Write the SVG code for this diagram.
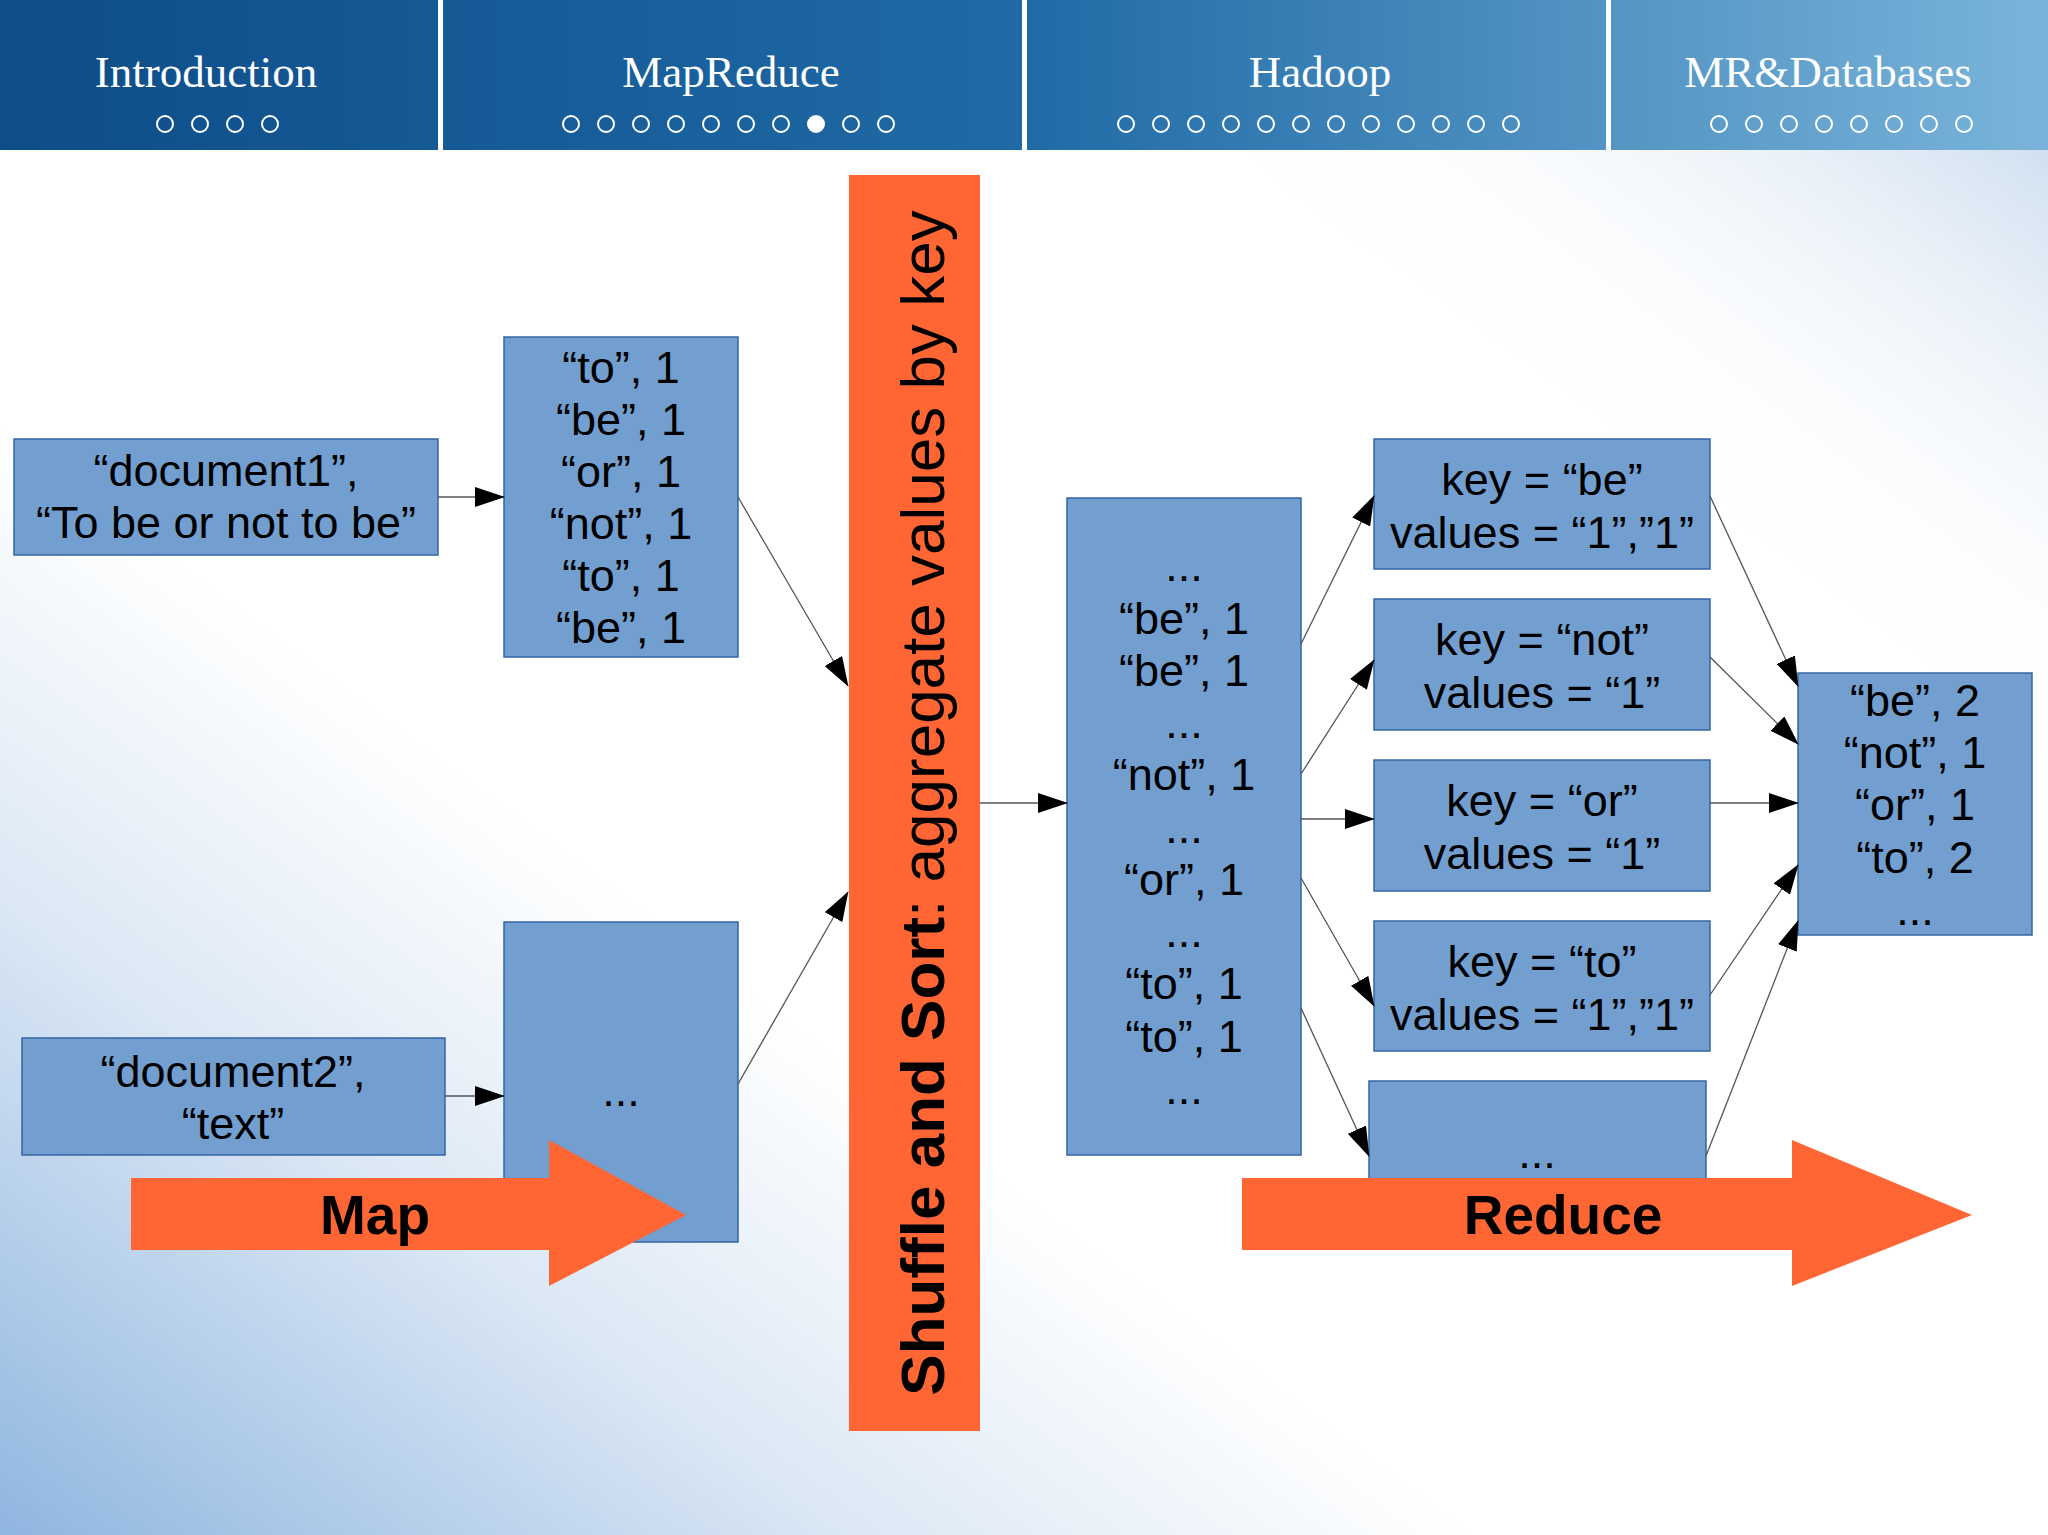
<svg xmlns="http://www.w3.org/2000/svg" width="2048" height="1535" viewBox="0 0 2048 1535">
<defs>
<linearGradient id="hdr" x1="0" y1="0" x2="1" y2="0">
<stop offset="0" stop-color="#0d4d88"/><stop offset="0.5" stop-color="#1f6aa6"/><stop offset="1" stop-color="#7ab4da"/>
</linearGradient>
<linearGradient id="bgl" x1="0" y1="1" x2="0.6" y2="0.4">
<stop offset="0" stop-color="#8fb6e0"/><stop offset="0.35" stop-color="#dce8f5"/><stop offset="0.6" stop-color="#ffffff"/>
</linearGradient>
<linearGradient id="bgr" x1="1" y1="0" x2="0.5" y2="0.5">
<stop offset="0" stop-color="#b7cfe9"/><stop offset="0.5" stop-color="#ffffff" stop-opacity="0"/>
</linearGradient>
<marker id="ah" markerUnits="userSpaceOnUse" markerWidth="30" markerHeight="20" refX="29" refY="10" orient="auto">
<path d="M0,0 L30,10 L0,20 Z" fill="#000"/>
</marker>
<style>
.box{fill:#729fcf;stroke:#3465a4;stroke-width:1.5}
.t{font-family:"Liberation Sans",Arial,sans-serif;font-size:45px;fill:#000;text-anchor:middle;dominant-baseline:central}
.c{stroke:#555;stroke-width:1.3;fill:none;marker-end:url(#ah)}
.h{font-family:"Liberation Serif","Times New Roman",serif;font-size:45px;fill:#fff;text-anchor:middle}
.d{fill:none;stroke:#fff;stroke-width:2}
.or{fill:#ff6633}
.b{font-family:"Liberation Sans",Arial,sans-serif;font-weight:bold;font-size:55px;fill:#000;text-anchor:middle;dominant-baseline:central}
</style>
</defs>
<rect width="2048" height="1535" fill="url(#bgl)"/>
<rect width="2048" height="1535" fill="url(#bgr)"/>
<g id="header">
<rect width="2048" height="150" fill="url(#hdr)"/>
<rect x="438" y="0" width="5" height="150" fill="#fff"/>
<rect x="1022" y="0" width="5" height="150" fill="#fff"/>
<rect x="1606" y="0" width="5" height="150" fill="#fff"/>
<text class="h" x="206" y="87">Introduction</text>
<text class="h" x="731" y="87">MapReduce</text>
<text class="h" x="1320" y="87">Hadoop</text>
<text class="h" x="1828" y="87">MR&amp;Databases</text>
<g class="d">
<circle cx="165" cy="124" r="8"/><circle cx="200" cy="124" r="8"/><circle cx="235" cy="124" r="8"/><circle cx="270" cy="124" r="8"/>
<circle cx="571" cy="124" r="8"/><circle cx="606" cy="124" r="8"/><circle cx="641" cy="124" r="8"/><circle cx="676" cy="124" r="8"/><circle cx="711" cy="124" r="8"/><circle cx="746" cy="124" r="8"/><circle cx="781" cy="124" r="8"/><circle cx="816" cy="124" r="8" fill="#fff"/><circle cx="851" cy="124" r="8"/><circle cx="886" cy="124" r="8"/>
<circle cx="1126" cy="124" r="8"/><circle cx="1161" cy="124" r="8"/><circle cx="1196" cy="124" r="8"/><circle cx="1231" cy="124" r="8"/><circle cx="1266" cy="124" r="8"/><circle cx="1301" cy="124" r="8"/><circle cx="1336" cy="124" r="8"/><circle cx="1371" cy="124" r="8"/><circle cx="1406" cy="124" r="8"/><circle cx="1441" cy="124" r="8"/><circle cx="1476" cy="124" r="8"/><circle cx="1511" cy="124" r="8"/>
<circle cx="1719" cy="124" r="8"/><circle cx="1754" cy="124" r="8"/><circle cx="1789" cy="124" r="8"/><circle cx="1824" cy="124" r="8"/><circle cx="1859" cy="124" r="8"/><circle cx="1894" cy="124" r="8"/><circle cx="1929" cy="124" r="8"/><circle cx="1964" cy="124" r="8"/>
</g>
</g>
<g id="doc1"><rect class="box" x="14" y="439" width="424" height="116"/>
<text class="t" x="226" y="470">“document1”,</text><text class="t" x="226" y="522">“To be or not to be”</text></g>
<g id="map1"><rect class="box" x="504" y="337" width="234" height="320"/>
<text class="t" x="621" y="367">“to”, 1</text><text class="t" x="621" y="419">“be”, 1</text><text class="t" x="621" y="471">“or”, 1</text><text class="t" x="621" y="523">“not”, 1</text><text class="t" x="621" y="575">“to”, 1</text><text class="t" x="621" y="627">“be”, 1</text></g>
<g id="doc2"><rect class="box" x="22" y="1038" width="423" height="117"/>
<text class="t" x="233" y="1071">“document2”,</text><text class="t" x="233" y="1123">“text”</text></g>
<g id="map2"><rect class="box" x="504" y="922" width="234" height="320"/>
<text class="t" x="621" y="1090">...</text></g>
<g id="shuffle"><rect class="or" x="849" y="175" width="131" height="1256"/>
<text transform="translate(922,803) rotate(-90)" font-family="Liberation Sans, Arial, sans-serif" font-size="62" text-anchor="middle" dominant-baseline="central" fill="#000"><tspan font-weight="bold">Shuffle and Sort</tspan>: aggregate values by key</text></g>
<g id="sorted"><rect class="box" x="1067" y="498" width="234" height="657"/>
<text class="t" x="1184" y="565">...</text><text class="t" x="1184" y="618">“be”, 1</text><text class="t" x="1184" y="670">“be”, 1</text><text class="t" x="1184" y="722">...</text><text class="t" x="1184" y="774">“not”, 1</text><text class="t" x="1184" y="827">...</text><text class="t" x="1184" y="879">“or”, 1</text><text class="t" x="1184" y="931">...</text><text class="t" x="1184" y="983">“to”, 1</text><text class="t" x="1184" y="1036">“to”, 1</text><text class="t" x="1184" y="1088">...</text></g>
<g id="k1"><rect class="box" x="1374" y="439" width="336" height="130"/><text class="t" x="1542" y="479">key = “be”</text><text class="t" x="1542" y="532">values = “1”,”1”</text></g>
<g id="k2"><rect class="box" x="1374" y="599" width="336" height="131"/><text class="t" x="1542" y="639">key = “not”</text><text class="t" x="1542" y="692">values = “1”</text></g>
<g id="k3"><rect class="box" x="1374" y="760" width="336" height="131"/><text class="t" x="1542" y="800">key = “or”</text><text class="t" x="1542" y="853">values = “1”</text></g>
<g id="k4"><rect class="box" x="1374" y="921" width="336" height="130"/><text class="t" x="1542" y="961">key = “to”</text><text class="t" x="1542" y="1014">values = “1”,”1”</text></g>
<g id="k5"><rect class="box" x="1369" y="1081" width="337" height="130"/><text class="t" x="1537" y="1152">...</text></g>
<g id="result"><rect class="box" x="1798" y="673" width="234" height="262"/>
<text class="t" x="1915" y="700">“be”, 2</text><text class="t" x="1915" y="752">“not”, 1</text><text class="t" x="1915" y="804">“or”, 1</text><text class="t" x="1915" y="857">“to”, 2</text><text class="t" x="1915" y="909">...</text></g>
<g id="connectors">
<line class="c" x1="438" y1="497" x2="504" y2="497"/>
<line class="c" x1="445" y1="1096" x2="504" y2="1096"/>
<line class="c" x1="738" y1="497" x2="848" y2="686"/>
<line class="c" x1="738" y1="1084" x2="848" y2="892"/>
<line class="c" x1="980" y1="803" x2="1067" y2="803"/>
<line class="c" x1="1301" y1="644" x2="1374" y2="496"/>
<line class="c" x1="1301" y1="774" x2="1374" y2="660"/>
<line class="c" x1="1301" y1="819" x2="1374" y2="819"/>
<line class="c" x1="1301" y1="878" x2="1374" y2="1006"/>
<line class="c" x1="1301" y1="1008" x2="1369" y2="1156"/>
<line class="c" x1="1710" y1="496" x2="1798" y2="686"/>
<line class="c" x1="1710" y1="657" x2="1798" y2="744"/>
<line class="c" x1="1710" y1="803" x2="1798" y2="803"/>
<line class="c" x1="1710" y1="995" x2="1798" y2="865"/>
<line class="c" x1="1706" y1="1156" x2="1798" y2="921"/>
</g>
<g id="maparrow"><path class="or" d="M131,1178 H549 V1140 L686,1215 L549,1286 V1250 H131 Z"/><text class="b" x="375" y="1215">Map</text></g>
<g id="reducearrow"><path class="or" d="M1242,1178 H1792 V1140 L1972,1215 L1792,1286 V1250 H1242 Z"/><text class="b" x="1563" y="1215">Reduce</text></g>
</svg>
